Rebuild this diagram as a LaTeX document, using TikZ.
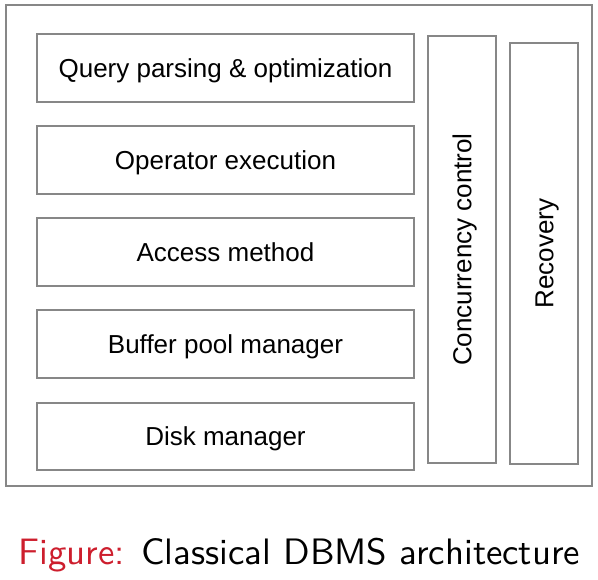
\documentclass[tikz,border=0pt]{standalone}
\usepackage{fontspec}
\newfontfamily\boxfont{Liberation Sans}
\newfontfamily\capfont{lmsans10-regular.otf}
\definecolor{edge}{RGB}{135,135,135}
\definecolor{figred}{RGB}{205,30,45}
\begin{document}
\begin{tikzpicture}[x=1pt,y=-1pt,
  layer/.style={draw=edge, line width=1.3pt, fill=white, minimum width=377pt, minimum height=68pt, inner sep=0pt},
  side/.style={draw=edge, line width=1.3pt, minimum width=68pt, inner sep=0pt},
  lbl/.style={anchor=base, inner sep=0pt, font=\boxfont\fontsize{26}{30}\selectfont},
  vlbl/.style={anchor=base, rotate=90, inner sep=0pt, font=\boxfont\fontsize{26}{30}\selectfont}]
\useasboundingbox (0,0) rectangle (598,580);
\node[draw=edge, line width=1.3pt, minimum width=586pt, minimum height=481pt, inner sep=0pt] (outer) at (299,245.5) {};
\node[layer] (query) at (225.5,68) {};
\node[layer] (oper) at (225.5,160) {};
\node[layer] (access) at (225.5,252) {};
\node[layer] (buffer) at (225.5,344) {};
\node[layer, minimum height=67pt] (disk) at (225.5,436.5) {};
\node[lbl] (querytext) at ([yshift=-9.3pt]query.center) {Query parsing \& optimization};
\node[lbl] (opertext) at ([yshift=-9.3pt]oper.center) {Operator execution};
\node[lbl] (accesstext) at ([yshift=-9.3pt]access.center) {Access method};
\node[lbl] (buffertext) at ([yshift=-9.3pt]buffer.center) {Buffer pool manager};
\node[lbl] (disktext) at ([yshift=-9.3pt]disk.center) {Disk manager};
\node[side, minimum height=427pt] (cc) at (462,249.5) {};
\node[vlbl] (cctext) at ([xshift=9.3pt]cc.center) {Concurrency control};
\node[side, minimum height=421pt] (rec) at (544,253.5) {};
\node[vlbl] (rectext) at ([xshift=9.3pt]rec.center) {Recovery};
\node[anchor=base, inner sep=0pt, font=\capfont\fontsize{36.8}{40}\selectfont] (cap) at (299.5,564) {\textcolor{figred}{Figure:} Classical DBMS architecture};
\end{tikzpicture}
\end{document}
